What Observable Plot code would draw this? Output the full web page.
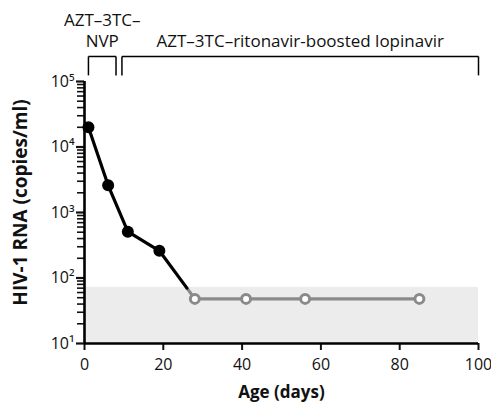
<!DOCTYPE html>
<html>
<head>
<meta charset="utf-8">
<script src="https://cdn.jsdelivr.net/npm/d3@7"></script>
<script src="https://cdn.jsdelivr.net/npm/@observablehq/plot@0.6"></script>
<style>
  body { margin: 0; background: #fff; }
  #chart svg { font-family: "Open Sans", sans-serif; }
</style>
</head>
<body>
<div id="chart"></div>
<script>
// Detected viral load (filled points)
const detectedDays = [1, 6, 11, 19];
const detectedRNA = [20000, 2600, 510, 260];
// Below detection limit (open points)
const undetectedDays = [28, 41, 56, 85];
const undetectedRNA = [48, 48, 48, 48];
// Where the curve enters the shaded band
const crossDay = 26;
const crossRNA = 70;
// Detection-limit band
const bandLow = 10;
const bandHigh = 72;
// Regimens
const regimenLabels = ["AZT–3TC–\nNVP", "AZT–3TC–ritonavir-boosted lopinavir"];
const regimenStart = [1, 9.5];
const regimenEnd = [8, 100];
// Ticks
const xTicks = [0, 20, 40, 60, 80, 100];
const yMajor = [10, 100, 1000, 10000, 100000];
const yLabel = "HIV-1 RNA (copies/ml)";
const xLabel = "Age (days)";

const sup = {"0":"⁰","1":"¹","2":"²","3":"³","4":"⁴","5":"⁵","6":"⁶","7":"⁷","8":"⁸","9":"⁹"};
const yMinor = [];
for (let e = 1; e < 5; e++) for (let k = 2; k <= 9; k++) yMinor.push(k * 10 ** e);

const detected = detectedDays.map((d, i) => ({day: d, rna: detectedRNA[i]}));
const undetected = undetectedDays.map((d, i) => ({day: d, rna: undetectedRNA[i]}));
const blackLine = [...detected, {day: crossDay, rna: crossRNA}];
const grayLine = [{day: crossDay, rna: crossRNA}, ...undetected];
const regimens = regimenLabels.map((l, i) => ({label: l, start: regimenStart[i], end: regimenEnd[i], mid: (regimenStart[i] + regimenEnd[i]) / 2}));

const TOP = 2.41e5, LEG = 1.24e5;
const gray = "#8a8a8a";

const plot = Plot.plot({
  width: 491,
  height: 405,
  marginLeft: 84,
  marginRight: 13,
  marginTop: 81,
  marginBottom: 62,
  style: {fontSize: "16px", fontFamily: "'Open Sans', sans-serif", color: "#111"},
  x: {domain: [0, 100]},
  y: {type: "log", domain: [10, 100000]},
  marks: [
    Plot.rect([0], {x1: 0, x2: 100, y1: bandLow, y2: bandHigh, fill: "#ebeceb"}),
    Plot.axisX({ticks: xTicks, tickSize: 7, tickPadding: 8, strokeWidth: 2, label: null, fontSize: 16}),
    Plot.axisY({ticks: yMinor, tickSize: 7, strokeWidth: 1.6, tickFormat: () => "", label: null}),
    Plot.axisY({ticks: yMajor, tickSize: 8, tickPadding: 2, strokeWidth: 2.2, label: null,
      tickFormat: d => "10" + String(Math.round(Math.log10(d))).split("").map(c => sup[c]).join(""), fontSize: 16}),
    Plot.ruleY([bandLow], {x1: 0, x2: 100, strokeWidth: 2.6, stroke: "#000"}),
    Plot.ruleX([0], {y1: 10, y2: 100000, strokeWidth: 2.6, stroke: "#000"}),
    Plot.line(grayLine, {x: "day", y: "rna", stroke: gray, strokeWidth: 3.2}),
    Plot.line(blackLine, {x: "day", y: "rna", stroke: "#000", strokeWidth: 3.2}),
    Plot.dot(detected, {x: "day", y: "rna", r: 6, fill: "#000"}),
    Plot.dot(undetected, {x: "day", y: "rna", r: 4.5, fill: "#fff", stroke: gray, strokeWidth: 3}),
    // regimen brackets
    Plot.link(regimens, {x1: "start", x2: "end", y1: TOP, y2: TOP, stroke: "#000", strokeWidth: 1.5}),
    Plot.link(regimens, {x1: "start", x2: "start", y1: TOP, y2: LEG, stroke: "#000", strokeWidth: 1.5}),
    Plot.link(regimens, {x1: "end", x2: "end", y1: TOP, y2: LEG, stroke: "#000", strokeWidth: 1.5}),
    Plot.text(regimens, {x: "mid", frameAnchor: "top", text: "label", lineAnchor: "bottom", dy: -35, lineHeight: 1.2, fontSize: 17, fill: "#111"}),
    // axis labels
    Plot.text([xLabel], {frameAnchor: "bottom", dy: 54, fontWeight: "bold", fontSize: 17, fill: "#111", x: () => 50}),
    Plot.text([yLabel], {frameAnchor: "left", textAnchor: "middle", rotate: -90, dx: -64, dy: -10, fontWeight: "bold", fontSize: 19, fill: "#111"})
  ]
});
document.getElementById("chart").appendChild(plot);
</script>
</body>
</html>
